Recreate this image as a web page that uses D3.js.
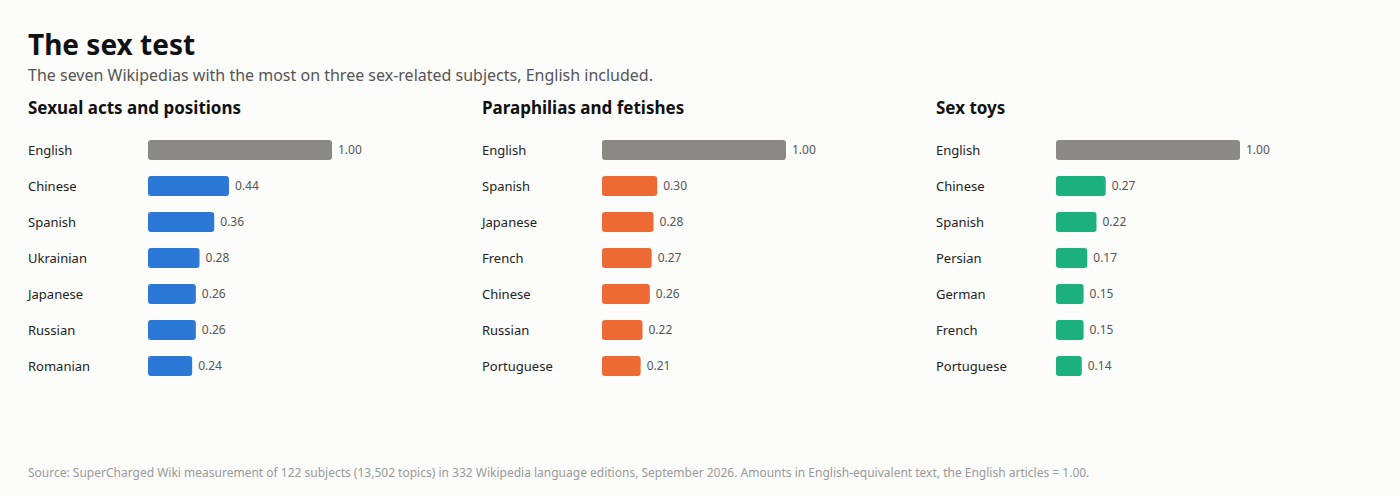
<!DOCTYPE html>
<html><head><meta charset="utf-8">
<script src="https://cdn.jsdelivr.net/npm/d3@7"></script>
<style>body{margin:0;background:#fcfcfb;font-family:"Noto Sans",sans-serif;}</style>
</head><body>
<script>
var panelTitles = ['Sexual acts and positions', 'Paraphilias and fetishes', 'Sex toys'];
var panelColors = ['#2b78d6', '#ee6a35', '#1bb07d'];
var actsLangs = ['English', 'Chinese', 'Spanish', 'Ukrainian', 'Japanese', 'Russian', 'Romanian'];
var actsValues = [1.00, 0.44, 0.36, 0.28, 0.26, 0.26, 0.24];
var fetishLangs = ['English', 'Spanish', 'Japanese', 'French', 'Chinese', 'Russian', 'Portuguese'];
var fetishValues = [1.00, 0.30, 0.28, 0.27, 0.26, 0.22, 0.21];
var toysLangs = ['English', 'Chinese', 'Spanish', 'Persian', 'German', 'French', 'Portuguese'];
var toysValues = [1.00, 0.27, 0.22, 0.17, 0.15, 0.15, 0.14];

var panels = [[actsLangs, actsValues], [fetishLangs, fetishValues], [toysLangs, toysValues]];

var width = 1400, height = 496;
var svg = d3.select('body').append('svg').attr('width', width).attr('height', height);
svg.append('rect').attr('width', width).attr('height', height).attr('fill', '#fcfcfb');

svg.append('text').attr('x', 28).attr('y', 55).attr('font-size', 28).attr('font-weight', 'bold')
  .attr('fill', '#111').text('The sex test');
svg.append('text').attr('x', 28).attr('y', 81).attr('font-size', 16).attr('fill', '#555')
  .text('The seven Wikipedias with the most on three sex-related subjects, English included.');

panels.forEach(function(p, i) {
  var langs = p[0], vals = p[1];
  var g = svg.append('g').attr('transform', 'translate(' + (28 + i * 454) + ',0)');
  g.append('text').attr('x', 0).attr('y', 114).attr('font-size', 17).attr('font-weight', 'bold')
    .attr('fill', '#111').text(panelTitles[i]);

  var x = d3.scaleLinear().domain([0, 1]).range([120, 304]);
  var y = d3.scaleBand().domain(langs).range([132, 384]).paddingInner(0.44).paddingOuter(0.22);

  langs.forEach(function(l, j) {
    var cy = y(l) + y.bandwidth() / 2;
    g.append('text').attr('x', 0).attr('y', cy).attr('dy', '0.38em').attr('font-size', 13)
      .attr('fill', '#222').text(l);
    g.append('rect').attr('x', x(0)).attr('y', y(l)).attr('width', x(vals[j]) - x(0))
      .attr('height', y.bandwidth()).attr('rx', 3)
      .attr('fill', j === 0 ? '#8a8984' : panelColors[i]);
    g.append('text').attr('x', x(vals[j]) + 6).attr('y', cy).attr('dy', '0.35em')
      .attr('font-size', 12).attr('fill', '#555').text(vals[j].toFixed(2));
  });
});

svg.append('text').attr('x', 28).attr('y', 477).attr('font-size', 12).attr('fill', '#999')
  .text('Source: SuperCharged Wiki measurement of 122 subjects (13,502 topics) in 332 Wikipedia language editions, September 2026. Amounts in English-equivalent text, the English articles = 1.00.');
</script>
</body></html>
